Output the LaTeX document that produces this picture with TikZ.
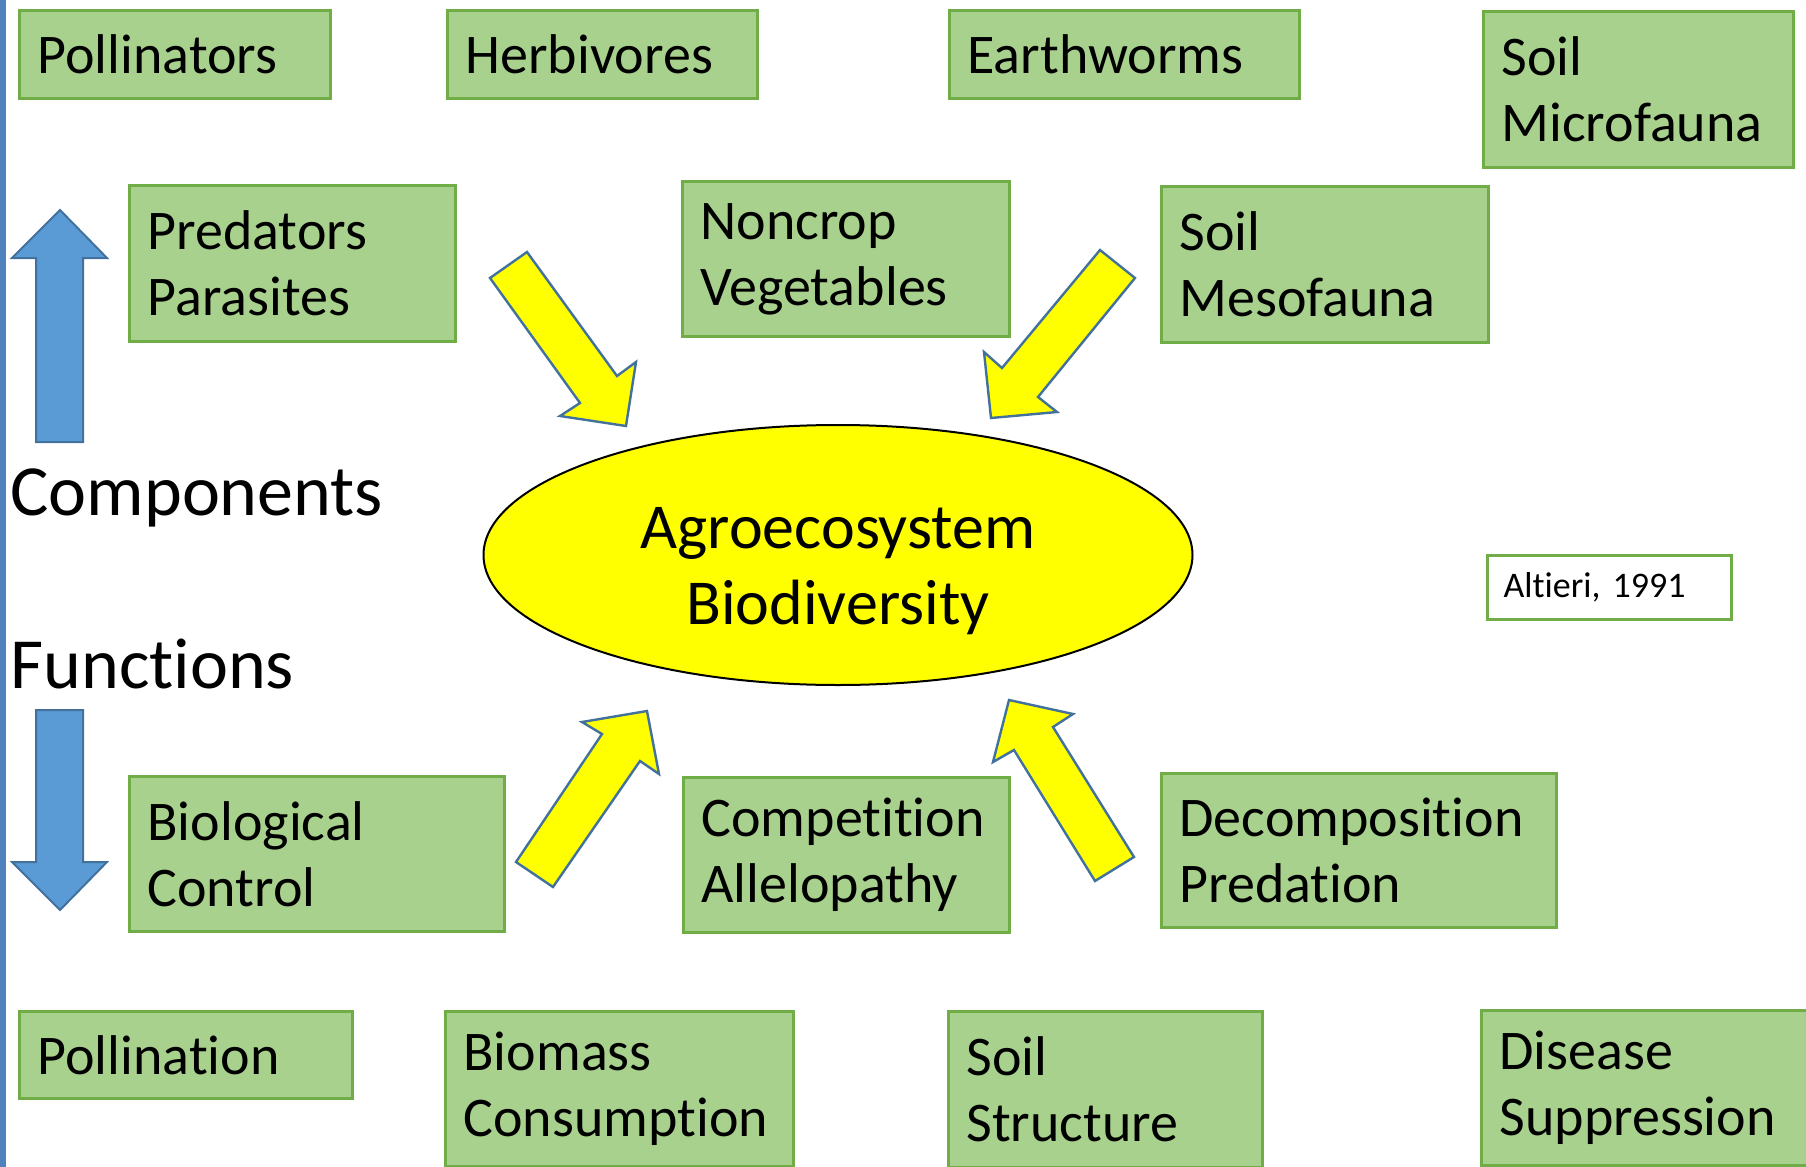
\documentclass[tikz,border=0pt]{standalone}
\usepackage{fontspec}
\setmainfont{Carlito}[Ligatures={NoCommon}]
\usetikzlibrary{shapes.geometric}
\definecolor{boxfill}{RGB}{169,209,142}
\definecolor{boxline}{RGB}{112,173,71}
\definecolor{barfill}{RGB}{91,155,213}
\definecolor{barline}{RGB}{65,113,156}
\definecolor{sidebar}{RGB}{79,129,189}
\definecolor{agroyellow}{RGB}{255,255,0}

\begin{document}
\begin{tikzpicture}[
  x=0.5pt, y=-0.5pt,
  box/.style={draw=boxline, fill=boxfill, line width=1.5pt,
    anchor=north west, align=left, inner xsep=9pt, inner ysep=0pt,
    font=\fontsize{28}{33}\selectfont},
  ref/.style={draw=boxline, fill=white, line width=1.5pt,
    anchor=north west, align=left, inner xsep=8pt, inner ysep=0pt,
    font=\fontsize{18}{22}\selectfont},
  heading/.style={anchor=base west, inner sep=0pt,
    font=\fontsize{36}{40}\selectfont},
  barrow/.style={draw=barline, fill=barfill, line width=1pt,
    line join=miter},
  yarrow/.style={draw=barline, fill=agroyellow, line width=1.2pt,
    line join=miter},
]
\useasboundingbox (0,0) rectangle (1806,1167);
\fill[sidebar] (0,0) rectangle (6,1167);
% components (top) and functions (bottom)
\foreach \n/\t/\x/\y/\w/\h in {
    poll/Pollinators/18/9/311/88,
    herb/Herbivores/446/9/310/88,
    worm/Earthworms/948/9/350/88,
    micro/{Soil\\Microfauna}/1482/10/310/156,
    pred/{Predators\\Parasites}/128/184/326/156,
    noncrop/{Noncrop\\Vegetables}/681/180/327/155,
    meso/{Soil\\Mesofauna}/1160/185/327/156,
    bioctl/{Biological\\Control}/128/775/375/155,
    compet/{Competition\\Allelopathy}/682/776/326/155,
    decomp/{Decomposition\\Predation}/1160/772/395/154,
    pollin/Pollination/18/1010/333/87,
    biomass/{Biomass\\Consumption}/444/1010/348/155,
    soilst/{Soil\\Structure}/947/1010/314/156,
    disease/{Disease\\Suppression}/1480/1009/346/155} {
  \pgfmathsetmacro{\tw}{\w/2-18}
  \pgfmathsetmacro{\th}{\h/2}
  \node[box, text width=\tw pt, minimum height=\th pt] (\n) at (\x,\y) {\t};
}
% centre
\node[ellipse, draw=black, fill=agroyellow, line width=1pt, inner sep=0pt,
  minimum width=354.5pt, minimum height=130pt] (agro) at (838,555) {};
\node[align=center, inner sep=0pt, font=\fontsize{32}{38}\selectfont]
  (agrotext) at ([yshift=-8pt]agro.center) {Agroecosystem\\Biodiversity};
\node[ref, text width=106pt, minimum height=32pt] (altieri) at (1486,554)
  {Altieri, 1991};
% side labels and blue arrows
\node[heading] (comp) at (10,515) {Components};
\node[heading] (func) at (10,688) {Functions};
\draw[barrow] (36,442) -- (36,258) -- (12,258) -- (60,210) -- (107,258)
  -- (83,258) -- (83,442) -- cycle;
\draw[barrow] (36,710) -- (36,862) -- (12,862) -- (60,910) -- (107,862)
  -- (83,862) -- (83,710) -- cycle;
% yellow arrows
\draw[yarrow] (490,278) -- (527,252) -- (617,376) -- (636,362)
  -- (626,426) -- (560,416) -- (580,403) -- cycle;
\draw[yarrow] (1100,250) -- (1135,278) -- (1038,397) -- (1057,412)
  -- (991,418) -- (984,352) -- (1002,368) -- cycle;
\draw[yarrow] (516,862) -- (553,887) -- (640,761) -- (659,774)
  -- (647,711) -- (582,722) -- (602,734) -- cycle;
\draw[yarrow] (1134,857) -- (1095,881) -- (1014,750) -- (993,762)
  -- (1009,700) -- (1073,714) -- (1053,727) -- cycle;
\end{tikzpicture}
\end{document}
